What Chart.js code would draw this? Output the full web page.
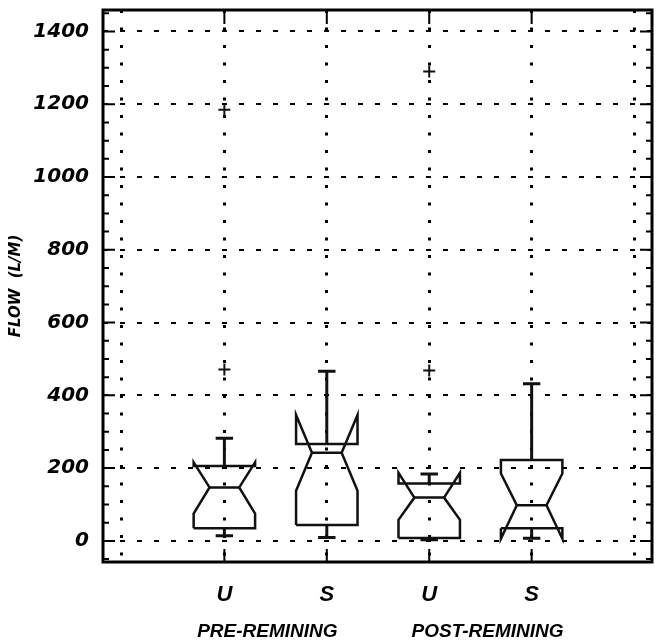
<!DOCTYPE html>
<html>
<head>
<meta charset="utf-8">
<script src="https://cdn.jsdelivr.net/npm/chart.js@4.4.1/dist/chart.umd.min.js"></script>
<style>
  html, body { margin: 0; padding: 0; background: #fff; }
  #wrap { width: 660px; height: 643px; }
</style>
</head>
<body>
<div id="wrap"><canvas id="flowChart"></canvas></div>
<script>
// Box positions and labels
const categories = ['U', 'S', 'U', 'S'];
const positions = [1, 2, 3, 4];
const groups = ['PRE-REMINING', 'POST-REMINING'];
const groupPositions = [1.42, 3.57];

// Box statistics (flow, L/M)
const whiskerLow = [14, 9, 3, 7];
const q1 = [35, 44, 8, 35];
const notchLow = [75, 138, 58, 6];
const median = [147, 242, 119, 98];
const notchHigh = [216, 346, 187, 185];
const q3 = [206, 266, 158, 222];
const whiskerHigh = [282, 466, 184, 432];
const outliers = [[471, 1185], [], [468, 1290], []];

const yTicks = [0, 200, 400, 600, 800, 1000, 1200, 1400];
const xGrid = [0, 1, 2, 3, 4, 5];

// widths in x units
const BOX_HALF = 0.3;
const NOTCH_HALF = 0.145;
const CAP_HALF = 0.085;

const GAP = { x: null, y: null };

// Notched box outline
function boxOutline(i) {
    const p = positions[i];
    const l = p - BOX_HALF, r = p + BOX_HALF;
    const il = p - NOTCH_HALF, ir = p + NOTCH_HALF;
    return [
        { x: l, y: q1[i] }, { x: l, y: notchLow[i] }, { x: il, y: median[i] },
        { x: l, y: notchHigh[i] }, { x: l, y: q3[i] }, { x: r, y: q3[i] },
        { x: r, y: notchHigh[i] }, { x: ir, y: median[i] }, { x: r, y: notchLow[i] },
        { x: r, y: q1[i] }, { x: l, y: q1[i] }
    ];
}

function medianLines() {
    const pts = [];
    positions.forEach((p, i) => {
        pts.push({ x: p - NOTCH_HALF, y: median[i] }, { x: p + NOTCH_HALF, y: median[i] }, GAP);
    });
    return pts;
}

function whiskerLines() {
    const pts = [];
    positions.forEach((p, i) => {
        pts.push({ x: p, y: q3[i] }, { x: p, y: whiskerHigh[i] }, GAP);
        pts.push({ x: p - CAP_HALF, y: whiskerHigh[i] }, { x: p + CAP_HALF, y: whiskerHigh[i] }, GAP);
        pts.push({ x: p, y: q1[i] }, { x: p, y: whiskerLow[i] }, GAP);
        pts.push({ x: p - CAP_HALF, y: whiskerLow[i] }, { x: p + CAP_HALF, y: whiskerLow[i] }, GAP);
    });
    return pts;
}

function outlierPoints() {
    const pts = [];
    positions.forEach((p, i) => outliers[i].forEach(v => pts.push({ x: p, y: v })));
    return pts;
}

const lineStyle = {
    type: 'scatter',
    showLine: true,
    borderColor: '#111',
    borderWidth: 2.5,
    pointRadius: 0,
    fill: false,
    tension: 0,
    spanGaps: false,
    borderJoinStyle: 'miter'
};

const datasets = positions.map((p, i) => Object.assign({ label: 'box' + i, data: boxOutline(i) }, lineStyle));
datasets.push(Object.assign({ label: 'median', data: medianLines() }, lineStyle));
datasets.push(Object.assign({}, lineStyle, { label: 'whiskers', data: whiskerLines(), borderWidth: 3 }));
datasets.push({
    type: 'scatter',
    label: 'outliers',
    data: outlierPoints(),
    pointStyle: 'cross',
    pointRadius: 6,
    borderWidth: 2,
    borderColor: '#111'
});

// Inward tick marks and the plot frame
const frameAndTicks = {
    id: 'frameAndTicks',
    beforeDatasetsDraw(chart) {
        const { ctx, chartArea: a, scales: { x, y } } = chart;
        ctx.save();
        ctx.strokeStyle = '#000';
        ctx.lineWidth = 2;
        ctx.beginPath();
        for (let v = -50; v <= 1450; v += 50) {
            const py = y.getPixelForValue(v);
            const len = v % 200 === 0 ? 12 : 6;
            ctx.moveTo(a.left, py); ctx.lineTo(a.left + len, py);
            ctx.moveTo(a.right, py); ctx.lineTo(a.right - len, py);
        }
        positions.forEach(p => {
            const px = x.getPixelForValue(p);
            ctx.moveTo(px, a.top); ctx.lineTo(px, a.top + 14);
            ctx.moveTo(px, a.bottom); ctx.lineTo(px, a.bottom - 13);
        });
        ctx.stroke();
        ctx.lineWidth = 3;
        ctx.strokeRect(a.left, a.top, a.right - a.left, a.bottom - a.top);
        ctx.restore();
    }
};

const X_MIN = -0.185, X_MAX = 5.175;
const labelFont = { family: 'Liberation Sans', weight: 'bold', style: 'italic' };

function noPadding(s) {
    s.paddingTop = 0;
    s.paddingBottom = 0;
    s.paddingLeft = 0;
    s.paddingRight = 0;
}

new Chart(document.getElementById('flowChart'), {
    type: 'scatter',
    data: { datasets: datasets },
    plugins: [frameAndTicks],
    options: {
        responsive: true,
        maintainAspectRatio: false,
        animation: false,
        layout: { padding: { left: 0, top: 10, right: 3, bottom: 0 } },
        plugins: {
            legend: { display: false },
            tooltip: { enabled: false }
        },
        scales: {
            x: {
                type: 'linear',
                position: 'bottom',
                min: X_MIN,
                max: X_MAX,
                weight: 0,
                afterBuildTicks: s => { s.ticks = xGrid.map(v => ({ value: v })); },
                afterFit: s => { s.height = 48; noPadding(s); },
                grid: { color: '#000', lineWidth: 3, drawTicks: false },
                border: { display: false, dash: [3, 14.5] },
                ticks: {
                    autoSkip: false,
                    maxRotation: 0,
                    minRotation: 0,
                    padding: 20,
                    color: '#000',
                    font: Object.assign({ size: 22 }, labelFont),
                    callback: v => {
                        const i = positions.indexOf(v);
                        return i >= 0 ? categories[i] : '';
                    }
                }
            },
            xg: {
                type: 'linear',
                position: 'bottom',
                min: X_MIN,
                max: X_MAX,
                weight: 1,
                afterBuildTicks: s => { s.ticks = groupPositions.map(v => ({ value: v })); },
                afterFit: s => { s.height = 33; noPadding(s); },
                grid: { display: false, drawTicks: false },
                border: { display: false },
                ticks: {
                    autoSkip: false,
                    maxRotation: 0,
                    minRotation: 0,
                    padding: 10,
                    color: '#000',
                    font: Object.assign({ size: 19 }, labelFont),
                    callback: (v, i) => groups[i]
                }
            },
            y: {
                min: -58,
                max: 1459,
                afterBuildTicks: s => { s.ticks = yTicks.map(v => ({ value: v })); },
                afterFit: s => { s.width = 103; noPadding(s); },
                grid: { color: '#000', lineWidth: 2, drawTicks: false },
                border: { display: false, dash: [5, 12] },
                ticks: {
                    padding: 14,
                    color: '#000',
                    font: { family: 'DejaVu Sans', size: 20, weight: 'bold', style: 'italic' },
                    callback: v => String(v)
                },
                title: {
                    display: true,
                    text: 'FLOW  (L/M)',
                    color: '#000',
                    padding: { top: 7, bottom: 0 },
                    font: { family: 'DejaVu Sans', size: 15, weight: 'bold', style: 'italic' }
                }
            }
        }
    }
});
</script>
</body>
</html>
